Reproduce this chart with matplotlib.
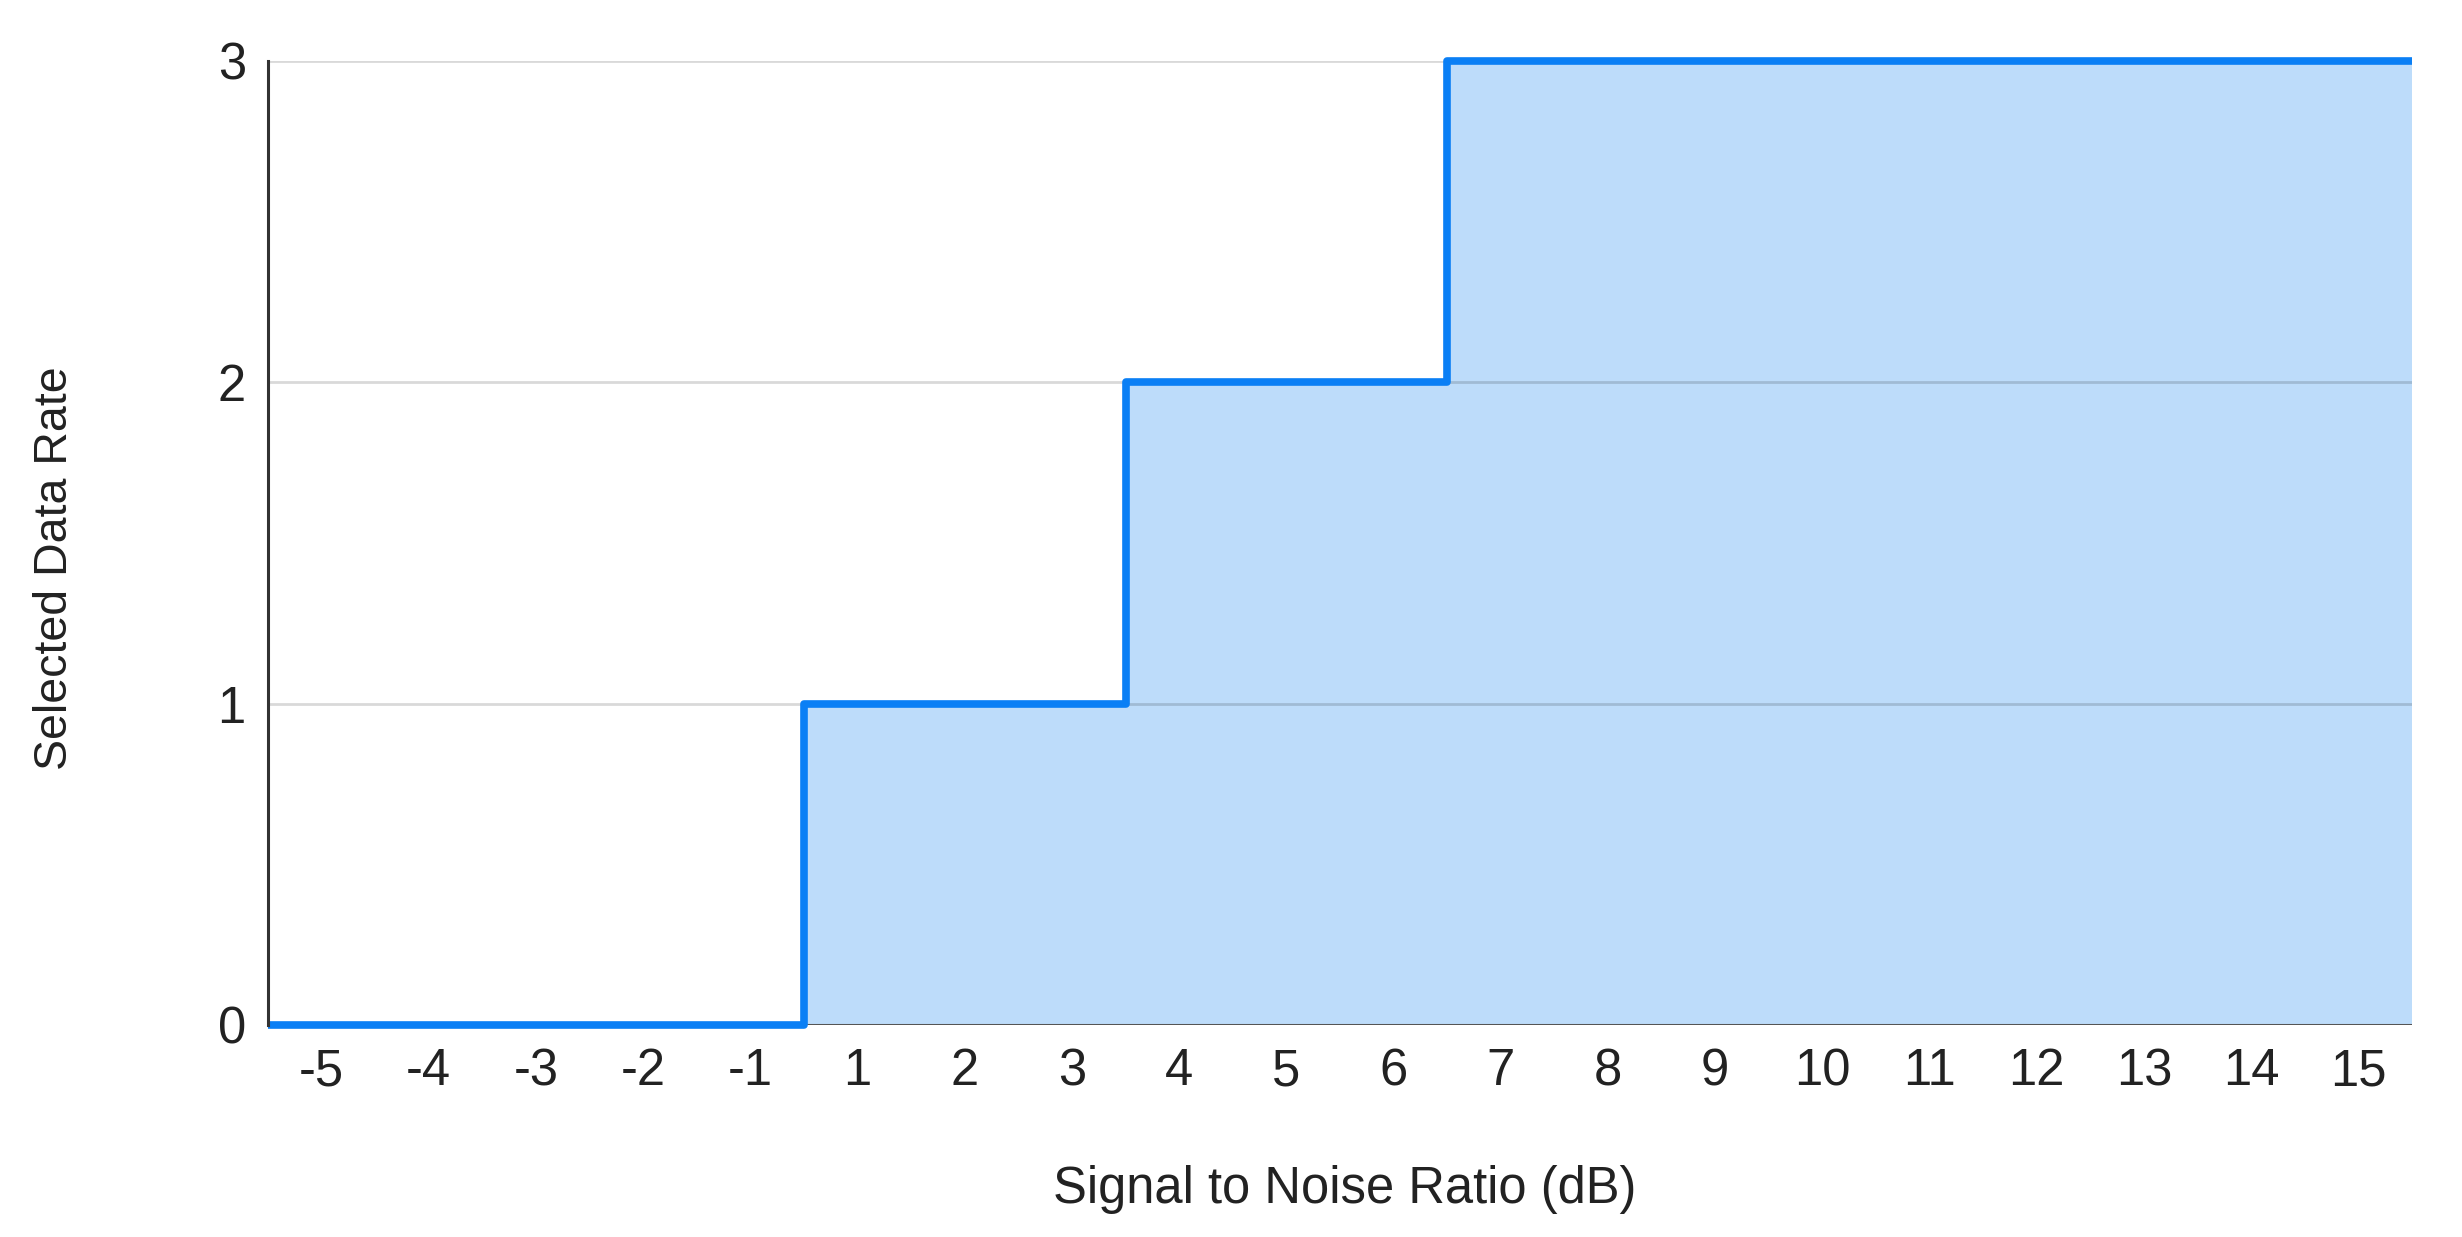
import matplotlib
matplotlib.use("Agg")
import matplotlib.pyplot as plt
import numpy as np

categories = ["-5", "-4", "-3", "-2", "-1", "1", "2", "3", "4", "5",
              "6", "7", "8", "9", "10", "11", "12", "13", "14", "15"]
data_rate = [0, 0, 0, 0, 0, 1, 1, 1, 2, 2, 2, 3, 3, 3, 3, 3, 3, 3, 3, 3]
y_ticks = [0, 1, 2, 3]

plt.rcParams['font.family'] = ['Liberation Sans', 'DejaVu Sans']

fig = plt.figure(figsize=(24.62, 12.37), dpi=100)
ax = fig.add_axes([268/2462, 1-1025/1237, (2412-268)/2462, (1025-61)/1237])

n = len(categories)
edges = np.arange(n + 1) - 0.5
vals = np.array(data_rate + [data_rate[-1]], dtype=float)

ax.fill_between(edges, vals, 0, step='post', color='#bddcfa', linewidth=0, zorder=1)
for yv in y_ticks[1:]:
    ax.axhline(yv, color='#000000', alpha=0.15, lw=2, zorder=2)
ax.axhline(0, color='#555555', lw=2.2, zorder=2)
ax.plot(edges, vals, drawstyle='steps-post', color='#0a7ff5', lw=5.5,
        solid_joinstyle='round', solid_capstyle='butt', zorder=3, clip_on=False)

ax.set_xlim(-0.5, n - 0.5)
ax.set_ylim(0, 3)
ax.set_xticks(np.arange(n))
ax.set_xticklabels(categories)
ax.set_yticks(y_ticks)
ax.set_yticklabels([str(v) for v in y_ticks])
ax.tick_params(axis='both', length=0, labelsize=36.5, colors='#222222')
ax.tick_params(axis='x', pad=16)
ax.tick_params(axis='y', pad=16)

for s in ['top', 'right', 'bottom']:
    ax.spines[s].set_visible(False)
ax.spines['left'].set_color('#333333')
ax.spines['left'].set_linewidth(2.2)
ax.spines['left'].set_zorder(4)

fig.text(1345/2462, 1-1190/1237, "Signal to Noise Ratio (dB)", fontsize=36.5,
         ha='center', va='center', color='#222222')
fig.text(55/2462, 1-568/1237, "Selected Data Rate", fontsize=33.5, rotation=90,
         ha='center', va='center', color='#222222')

fig.savefig("out.png", dpi=100, facecolor='white')
